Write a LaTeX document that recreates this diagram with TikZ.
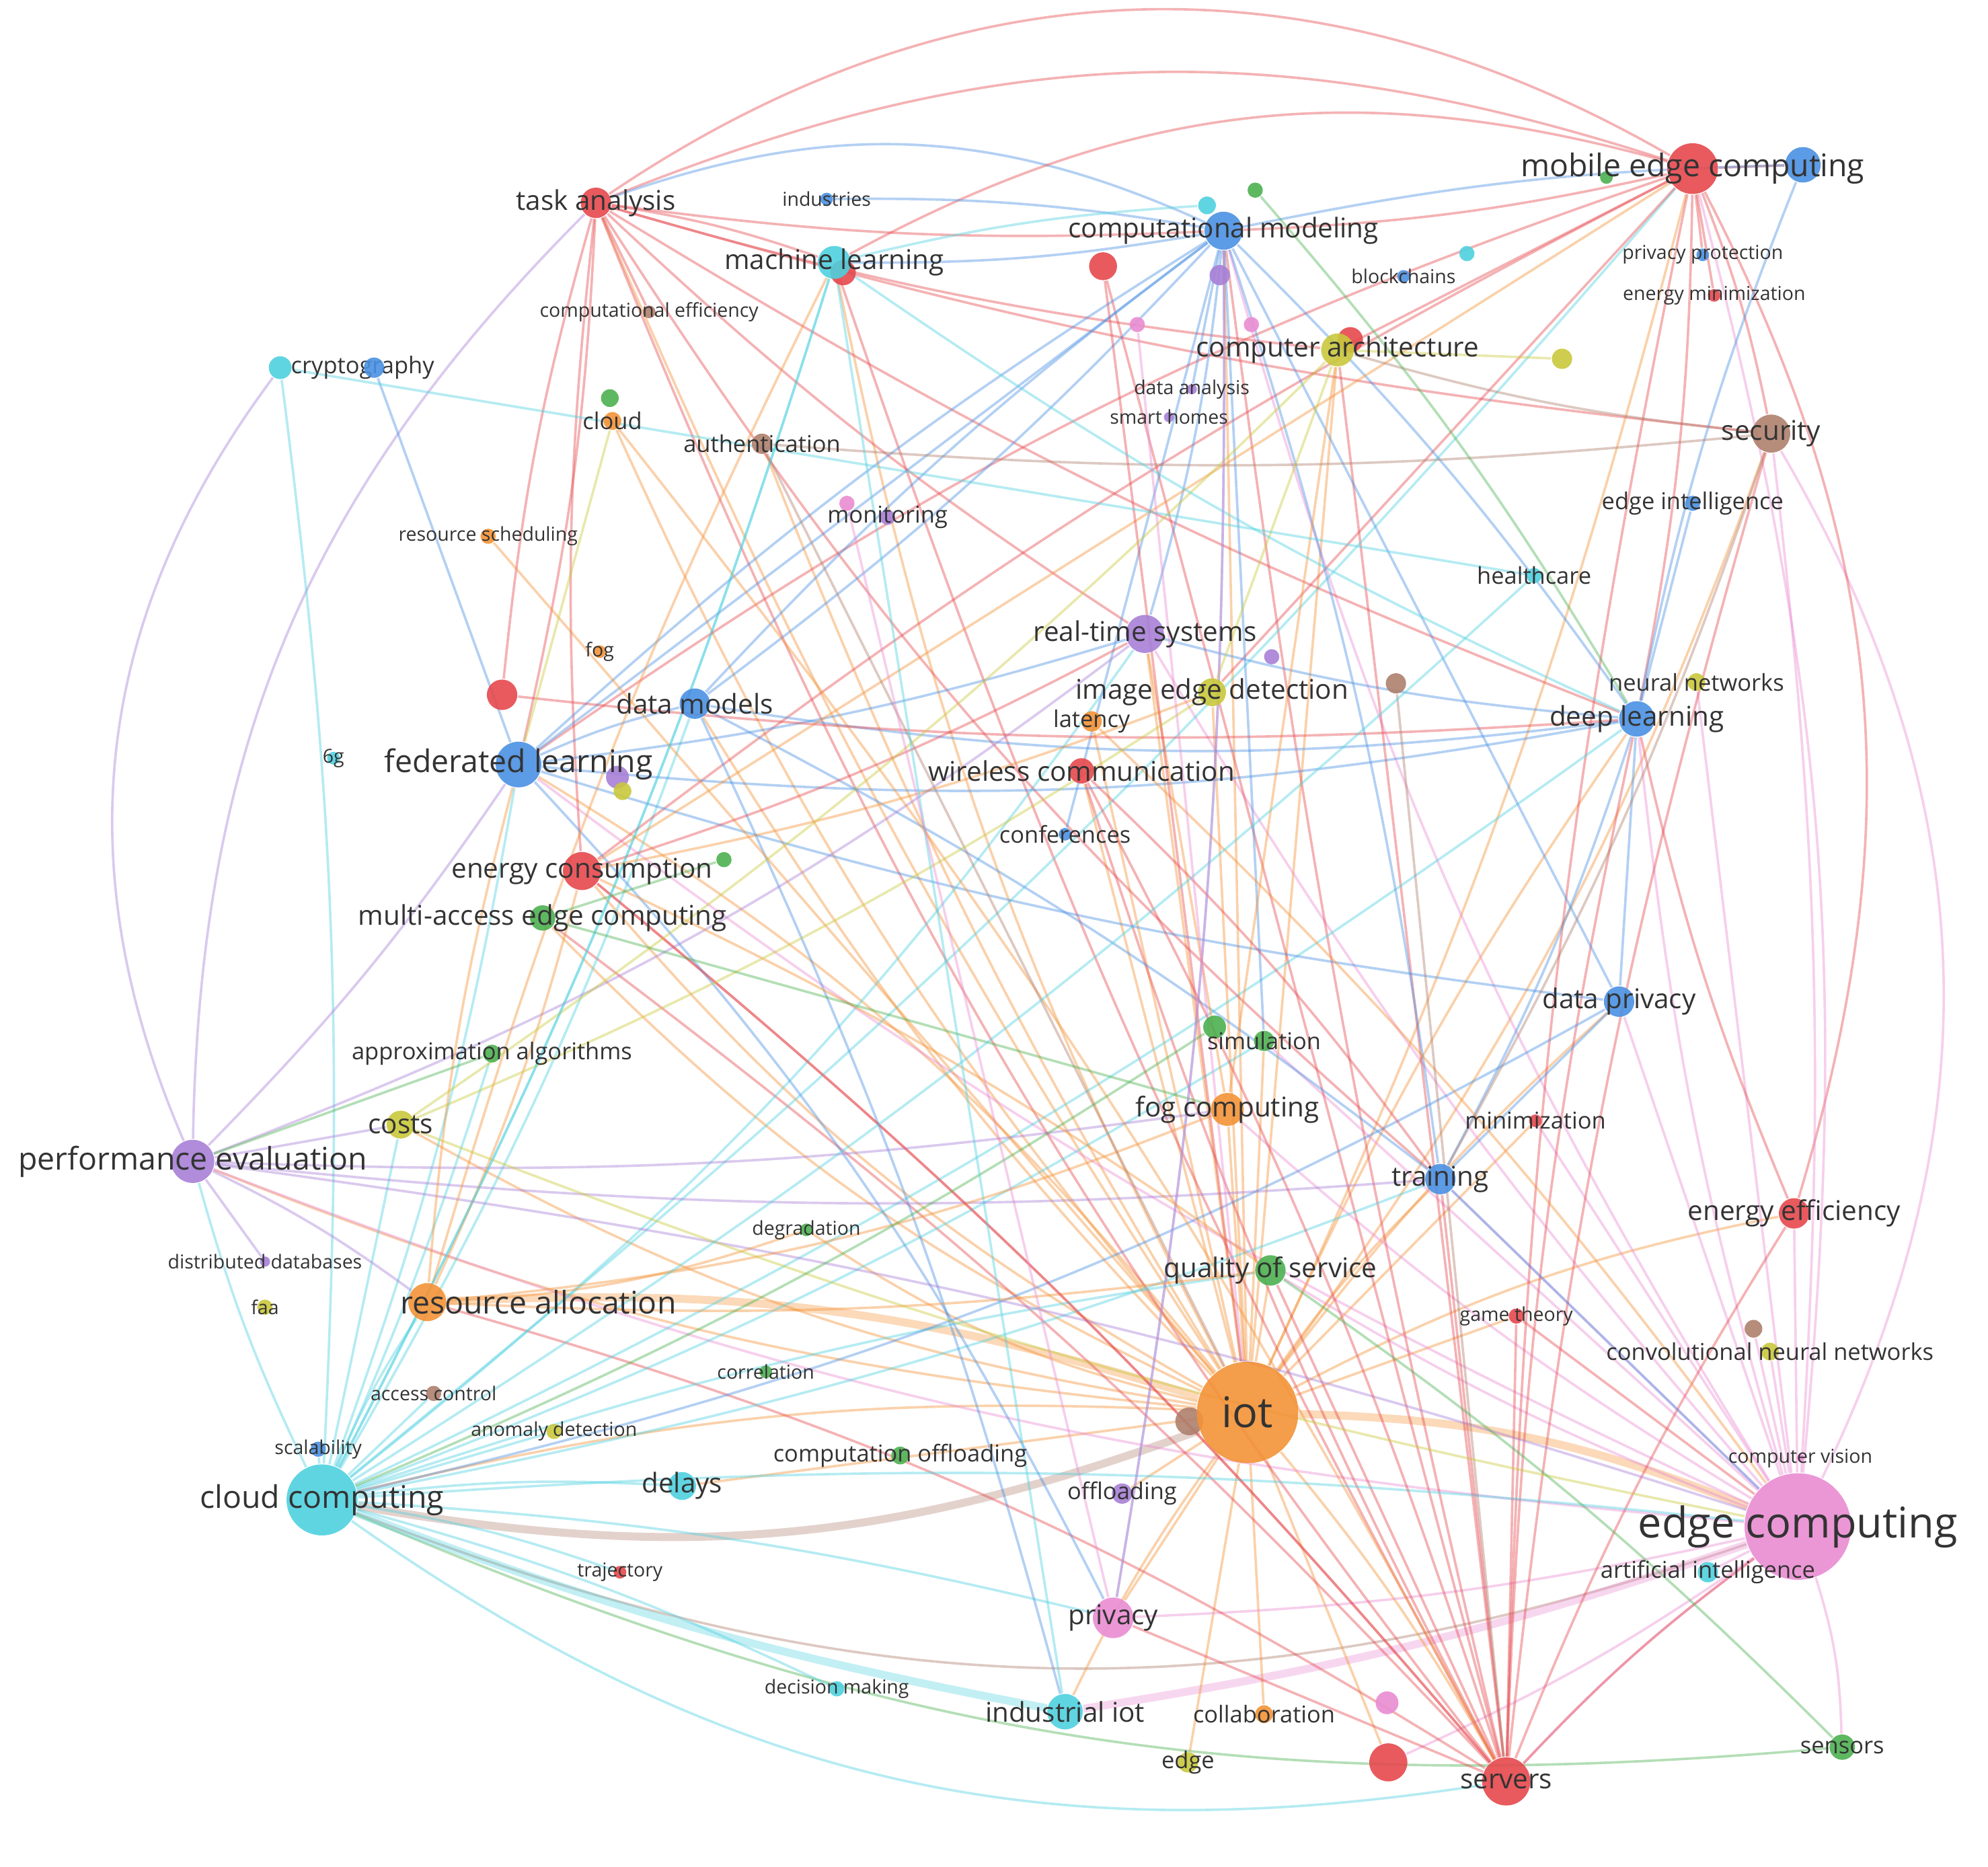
\documentclass[tikz,border=0pt]{standalone}
\usepackage{fontspec}
\setmainfont{Open Sans}
\usetikzlibrary{backgrounds}

\definecolor{cred}{HTML}{E5484D}
\definecolor{cblue}{HTML}{4A90E2}
\definecolor{cgreen}{HTML}{4CB050}
\definecolor{cyel}{HTML}{C9C83C}
\definecolor{cpur}{HTML}{A77FD6}
\definecolor{ccya}{HTML}{4FD0DF}
\definecolor{cora}{HTML}{F39236}
\definecolor{cbro}{HTML}{AE7F6D}
\definecolor{cpin}{HTML}{E98CD2}
\definecolor{ctxt}{HTML}{333333}

\tikzset{
  dot/.style={circle, inner sep=0pt, draw=none, fill opacity=0.9},
  lbl/.style={text=ctxt, inner sep=0pt},
  edge/.style={draw=#1, draw opacity=0.42, line width=0.55pt},
  fat/.style={draw=#1, draw opacity=0.35, line width=1.8pt},
  fs1/.style={font=\fontsize{4.3}{5}\selectfont},
  fs2/.style={font=\fontsize{5.2}{6}\selectfont},
  fs3/.style={font=\fontsize{6.1}{7}\selectfont},
  fs4/.style={font=\fontsize{7}{8}\selectfont},
  fs5/.style={font=\fontsize{9.5}{11}\selectfont},
}

% keyword: name, x, y, radius, colour, font style, label
\newcommand{\kw}[7]{%
  \node[dot, minimum size={#4*0.02cm}, fill=#5] (#1) at ({#2/100},{14.72-#3/100}) {};
  \node[lbl, #6] (#1-t) at (#1) {#7};}
% keyword circle without label
\newcommand{\kd}[5]{%
  \node[dot, minimum size={#4*0.02cm}, fill=#5] (#1) at ({#2/100},{14.72-#3/100}) {};}

\begin{document}
\begin{tikzpicture}
  \useasboundingbox (0,0) rectangle (15.68,14.72);

  % Schritt 1: Knoten
  \kd{mlb}{665}{215}{10}{cred}
  \kw{ta}{470}{160}{12}{cred}{fs3}{task analysis}
  \kw{ind}{652}{157}{5}{cblue}{fs1}{industries}
  \kw{ml}{658}{207}{13}{ccya}{fs3}{machine learning}
  \kw{ceff}{512}{246}{5}{cbro}{fs1}{computational efficiency}
  \kd{cma}{870}{210}{11}{cred}
  \kd{cmb}{962}{217}{8}{cpur}
  \kd{cmc}{952}{162}{7}{ccya}
  \kd{cmd}{990}{150}{6}{cgreen}
  \kd{cme}{1157}{200}{6}{ccya}
  \kw{cm}{965}{182}{15}{cblue}{fs3}{computational modeling}
  \kw{bc}{1107}{218}{5}{cblue}{fs1}{blockchains}
  \kd{meca}{1422}{130}{14}{cblue}
  \kd{mecb}{1267}{140}{5}{cgreen}
  \kw{mec}{1335}{133}{20}{cred}{fs4}{mobile edge computing}
  \kw{pp}{1343}{201}{5}{cblue}{fs1}{privacy protection}
  \kw{emin}{1352}{233}{5}{cred}{fs1}{energy minimization}
  \kd{caa}{1065}{268}{10}{cred}
  \kw{ca}{1055}{276}{13}{cyel}{fs3}{computer architecture}
  \kd{pka}{897}{256}{6}{cpin}
  \kd{pkb}{987}{256}{6}{cpin}
  \kw{da}{940}{307}{4}{cpur}{fs1}{data analysis}
  \kw{sh}{922}{329}{4}{cpur}{fs1}{smart homes}
  \kw{cry}{221}{290}{9}{ccya}{fs2}{\hspace*{1.3cm}cryptography}
  \kd{cryb}{295}{290}{8}{cblue}
  \kd{clb}{481}{314}{7}{cgreen}
  \kw{cl}{483}{332}{7}{cora}{fs2}{cloud}
  \kw{auth}{601}{350}{8}{cbro}{fs2}{authentication}
  \kd{mona}{668}{397}{6}{cpin}
  \kw{mon}{700}{408}{6}{cpur}{fs2}{monitoring}
  \kw{rs}{385}{423}{6}{cora}{fs1}{resource scheduling}
  \kw{sec}{1397}{342}{15}{cbro}{fs3}{security}
  \kd{yel}{1232}{283}{8}{cyel}
  \kw{ei}{1335}{397}{6}{cblue}{fs2}{edge intelligence}
  \kw{hc}{1210}{454}{6}{ccya}{fs2}{healthcare}
  \kw{rts}{903}{500}{15}{cpur}{fs3}{real-time systems}
  \kd{rtsb}{1003}{518}{6}{cpur}
  \kw{fog}{473}{514}{5}{cora}{fs1}{fog}
  \kd{redl}{396}{548}{12}{cred}
  \kw{dm}{548}{555}{12}{cblue}{fs3}{data models}
  \kw{ied}{956}{546}{11}{cyel}{fs3}{image edge detection}
  \kw{lat}{861}{569}{8}{cora}{fs2}{latency}
  \kd{brr}{1101}{539}{8}{cbro}
  \kw{nn}{1338}{538}{7}{cyel}{fs2}{neural networks}
  \kw{dl}{1291}{567}{14}{cblue}{fs3}{deep learning}
  \kw{sixg}{263}{598}{5}{ccya}{fs1}{6g}
  \kd{fla}{487}{613}{9}{cpur}
  \kd{flb}{491}{624}{7}{cyel}
  \kw{fl}{409}{603}{18}{cblue}{fs4}{federated learning}
  \kw{wc}{853}{608}{10}{cred}{fs3}{wireless communication}
  \kw{conf}{840}{658}{5}{cblue}{fs2}{conferences}
  \kd{ecb}{571}{678}{6}{cgreen}
  \kw{enc}{459}{687}{15}{cred}{fs3}{energy consumption}
  \kw{maec}{428}{724}{10}{cgreen}{fs3}{multi-access edge computing}
  \kw{dp}{1277}{790}{12}{cblue}{fs3}{data privacy}
  \kw{aa}{388}{831}{7}{cgreen}{fs2}{approximation algorithms}
  \kd{sima}{958}{810}{9}{cgreen}
  \kw{sim}{997}{821}{8}{cgreen}{fs2}{simulation}
  \kw{fc}{968}{875}{13}{cora}{fs3}{fog computing}
  \kw{mini}{1211}{884}{5}{cred}{fs2}{minimization}
  \kw{cost}{316}{887}{11}{cyel}{fs3}{costs}
  \kw{pe}{152}{916}{17}{cpur}{fs4}{performance evaluation}
  \kw{tr}{1136}{930}{12}{cblue}{fs3}{training}
  \kw{ee}{1415}{957}{12}{cred}{fs3}{energy efficiency}
  \kw{deg}{636}{970}{5}{cgreen}{fs1}{degradation}
  \kw{ddb}{209}{995}{4}{cpur}{fs1}{distributed databases}
  \kw{qos}{1002}{1002}{12}{cgreen}{fs3}{quality of service}
  \kw{faa}{209}{1031}{6}{cyel}{fs1}{faa}
  \kw{ra}{337}{1027}{15}{cora}{fs4}{\hspace*{1.75cm}resource allocation}
  \kw{gt}{1196}{1038}{6}{cred}{fs1}{game theory}
  \kd{brb}{1383}{1048}{7}{cbro}
  \kw{cnn}{1396}{1066}{7}{cyel}{fs2}{convolutional neural networks}
  \kw{corr}{604}{1082}{5}{cgreen}{fs1}{correlation}
  \kw{ac}{342}{1099}{6}{cbro}{fs1}{access control}
  \kd{iotb}{938}{1121}{11}{cbro}
  \kw{iot}{984}{1114}{40}{cora}{fs5}{iot}
  \kw{ad}{437}{1129}{6}{cyel}{fs1}{anomaly detection}
  \kw{sca}{251}{1143}{6}{cblue}{fs1}{scalability}
  \kw{cc}{254}{1183}{28}{ccya}{fs4}{cloud computing}
  \kw{del}{538}{1172}{11}{ccya}{fs3}{delays}
  \kw{co}{710}{1148}{7}{cgreen}{fs2}{computation offloading}
  \kw{off}{885}{1178}{8}{cpur}{fs2}{offloading}
  \kw{ec}{1418}{1204}{42}{cpin}{fs5}{edge computing}
  \kw{cv}{1420}{1150}{3}{cpin}{fs1}{computer vision}
  \kw{ai}{1347}{1240}{8}{ccya}{fs2}{artificial intelligence}
  \kw{trj}{489}{1240}{5}{cred}{fs1}{trajectory}
  \kw{pri}{878}{1276}{16}{cpin}{fs3}{privacy}
  \kw{dmk}{660}{1332}{6}{ccya}{fs1}{decision making}
  \kw{iiot}{840}{1350}{14}{ccya}{fs3}{industrial iot}
  \kw{col}{997}{1352}{7}{cora}{fs2}{collaboration}
  \kd{pkc}{1094}{1343}{9}{cpin}
  \kw{edg}{937}{1390}{8}{cyel}{fs2}{edge}
  \kd{redb}{1095}{1390}{15}{cred}
  \kw{srv}{1188}{1405}{19}{cred}{fs3}{servers}
  \kw{sen}{1453}{1378}{10}{cgreen}{fs2}{sensors}

  % Schritt 2: Verbindungen hinter den Knoten
  \begin{scope}[on background layer]
    % grosse Boegen
    \draw[edge=cred] (ta) to[bend left=32] (mec);
    \draw[edge=cred] (ta) to[bend left=20] (mec);
    \draw[edge=cblue] (ta) to[bend left=22] (cm);
    \draw[edge=cred] (ml) to[bend left=22] (mec);
    \draw[edge=cpur] (pe) to[bend left=30] (cry);
    \draw[edge=cpur] (pe) to[bend left=22] (ta);
    \draw[edge=ccya] (cc) to[bend right=22] (srv);
    \draw[edge=cbro] (cc) to[bend right=20] (ec);
    \draw[edge=cpin] (sec) to[bend left=28] (ec);
    \draw[edge=cred] (mec) to[bend left=22] (ee);
    \draw[edge=cgreen] (cc) to[bend right=14] (sen);
    \draw[fat=cora] (iot) to[bend left=10] (ec);
    \draw[fat=cbro] (iot) to[bend left=15] (cc);
    \draw[fat=cpin] (ec) to[bend left=5] (iiot);
    \draw[fat=cora] (iot) to[bend right=10] (ra);
    \draw[fat=ccya] (cc) to[bend right=5] (iiot);

    % iot
    \foreach \t/\b in {ta/5,ml/8,cm/0,mec/-5,sec/-8,dl/5,rts/0,fl/-10,enc/10,dm/6,wc/0,lat/0,ied/0,fc/0,qos/0,sim/0,tr/5,dp/5,ca/0,deg/10,cost/10,pe/8,srv/5,pri/0,iiot/-5,col/0,edg/0,cc/-8,del/0,maec/10,ee/8,gt/0,redb/0,mini/0,off/0,auth/5,cl/8}
      \draw[edge=cora] (iot) to[bend left=\b] (\t);
    % edge computing
    \foreach \t/\b in {mec/-10,sec/-5,dl/5,dp/0,tr/0,srv/-5,pri/5,pe/8,ee/0,cnn/0,ai/0,sen/8,rts/5,fl/6,sim/0,nn/0,mini/0,qos/5,redb/5,cm/8,brb/0,fc/5}
      \draw[edge=cpin] (ec) to[bend left=\b] (\t);
    % servers
    \foreach \t/\b in {ta/8,mec/5,ml/5,cm/3,ec/5,pri/0,ee/5,wc/5,enc/-5,ca/0,dl/5,ra/-8,tr/0,cma/0,qos/0,maec/-5,gt/0,sec/5}
      \draw[edge=cred] (srv) to[bend left=\b] (\t);
    % cloud computing
    \foreach \t/\b in {cry/-5,ml/-5,pe/5,fl/-5,ra/5,del/5,dm/-5,pri/5,ec/5,cost/0,mec/-5,rts/-8,ad/0,trj/5,dmk/5,qos/5,sim/-5,dl/-5,sca/0,ac/0,tr/-5,aa/-3}
      \draw[edge=ccya] (cc) to[bend left=\b] (\t);
    % task analysis
    \foreach \t/\b in {ml/5,cm/-5,fl/5,enc/-5,dl/-5,sec/-5,rts/-5,ca/-5,ceff/0,tr/-8,redl/-5}
      \draw[edge=cred] (ta) to[bend left=\b] (\t);
    % mobile edge computing
    \foreach \t/\b in {cm/5,sec/5,dl/5,fl/-8,pp/0,emin/0,ca/0,enc/-5,meca/0,ied/0}
      \draw[edge=cred] (mec) to[bend left=\b] (\t);
    % computational modeling
    \foreach \t/\b in {ml/5,rts/5,dl/5,fl/-5,dm/-5,sim/0,tr/5,dp/0,ind/-5,meca/5,pri/5,conf/0,da/0}
      \draw[edge=cblue] (cm) to[bend left=\b] (\t);
    % federated learning, deep learning, data models
    \foreach \s/\t/\b in {fl/dm/5,fl/dl/-8,fl/dp/-5,fl/rts/-5,fl/pri/8,fl/cm/0,dl/rts/5,dl/tr/5,dl/dp/0,dl/dm/8,dl/ei/0,dl/meca/5,dm/cm/-5,dm/tr/5,dm/iiot/5,dp/tr/0,dp/cc/8,tr/ec/0,cryb/fl/0}
      \draw[edge=cblue] (\s) to[bend left=\b] (\t);
    % performance evaluation
    \foreach \t/\b in {rts/-8,cost/0,ra/5,tr/-5,fl/-5,ddb/0,ec/5,fc/-5}
      \draw[edge=cpur] (pe) to[bend left=\b] (\t);
    % resource allocation, fog computing, energy consumption
    \foreach \s/\t/\b in {ra/deg/-8,ra/enc/-5,ra/fl/5,ra/fc/-8,ra/qos/-5,ra/ml/5,fc/rts/0,fc/ca/0,enc/qos/5,enc/mec/0,enc/ied/-5,rs/iot/0,lat/ec/5,cl/srv/5}
      \draw[edge=cora] (\s) to[bend left=\b] (\t);
    \foreach \s/\t/\b in {enc/srv/5,enc/rts/-5,redl/dl/-5,wc/tr/5,wc/srv/5,ee/dl/5,gt/ec/0,cma/iot/0}
      \draw[edge=cred] (\s) to[bend left=\b] (\t);
    \foreach \s/\t/\b in {sec/ca/5,sec/tr/5,sec/auth/5,auth/iot/0,brr/srv/0}
      \draw[edge=cbro] (\s) to[bend left=\b] (\t);
    \foreach \s/\t/\b in {ca/cost/5,ca/ied/0,ca/yel/0,cost/ec/-5,cost/ied/-5,cl/fl/0}
      \draw[edge=cyel] (\s) to[bend left=\b] (\t);
    \foreach \s/\t/\b in {qos/sen/5,maec/fc/0,maec/ecb/0,cmd/dl/5,sima/cc/5,aa/pe/0}
      \draw[edge=cgreen] (\s) to[bend left=\b] (\t);
    \foreach \s/\t/\b in {ml/iiot/0,ml/cc/5,cry/hc/0,ml/dl/-5,ml/cmc/5,hc/cc/5}
      \draw[edge=ccya] (\s) to[bend left=\b] (\t);
    \foreach \s/\t/\b in {pri/cm/-5,pri/mona/0,pka/iot/0}
      \draw[edge=cpin] (\s) to[bend left=\b] (\t);
  \end{scope}
\end{tikzpicture}
\end{document}
